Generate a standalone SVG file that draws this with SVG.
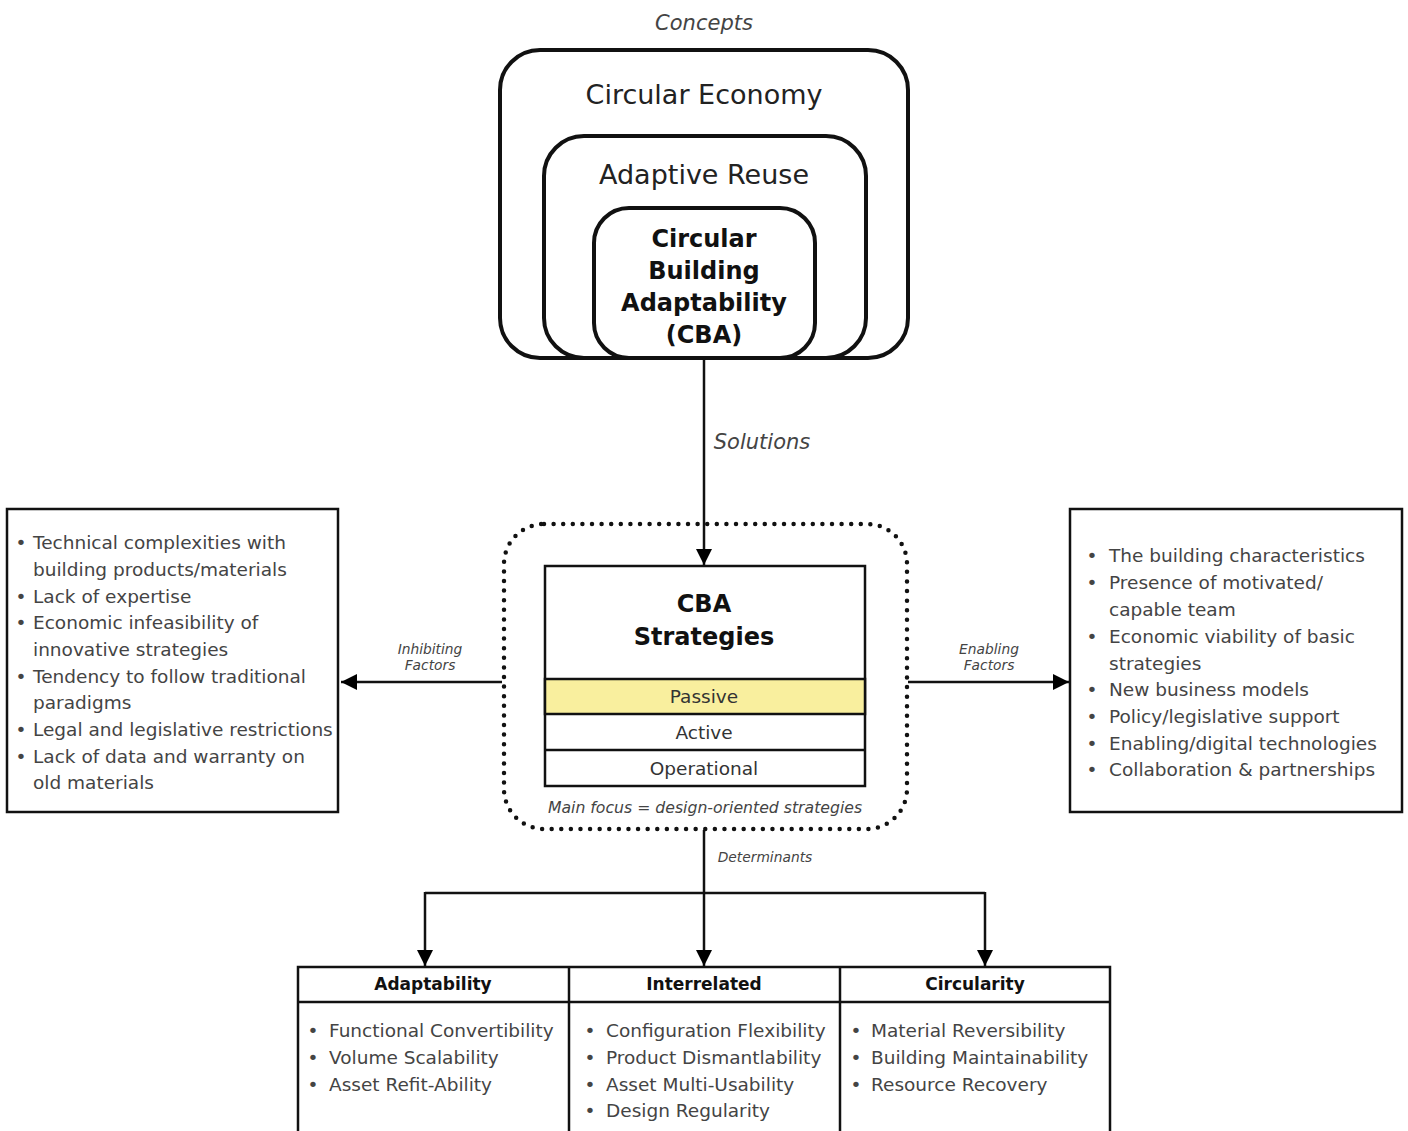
<svg xmlns="http://www.w3.org/2000/svg" width="1408" height="1131" viewBox="0 0 1408 1131">
<defs>
<marker id="ah" viewBox="0 0 10 10" refX="10" refY="5" markerWidth="16" markerHeight="16" markerUnits="userSpaceOnUse" orient="auto">
<path d="M0,0 L10,5 L0,10 Z" fill="#000"/>
</marker>
<style>
text{font-family:"DejaVu Sans","Liberation Sans",sans-serif;}
.ttl{font-size:27px;fill:#222;text-anchor:middle;}
.bold{font-size:24px;font-weight:bold;fill:#111;text-anchor:middle;}
.it{font-style:italic;fill:#444;text-anchor:middle;}
.li{font-size:18.5px;fill:#444;}
.bx{fill:#fff;stroke:#111;stroke-width:2.5;}
.rb{fill:none;stroke:#111;stroke-width:4;}
.cn{fill:none;stroke:#111;stroke-width:2.5;}
.hd{font-size:17px;font-weight:bold;fill:#111;text-anchor:middle;}
.ct{font-size:18.5px;fill:#333;text-anchor:middle;}
</style>
</defs>
<rect width="1408" height="1131" fill="#fff"/>

<g id="concepts">
<text class="it" x="704" y="30" style="font-size:21px">Concepts</text>
<rect class="rb" x="500" y="50" width="408" height="308" rx="40"/>
<text class="ttl" x="704" y="104">Circular Economy</text>
<rect class="rb" x="544" y="136" width="322" height="222" rx="40"/>
<text class="ttl" x="704" y="184">Adaptive Reuse</text>
<rect class="rb" x="594" y="208" width="221" height="150" rx="35"/>
<text class="bold" x="704" y="247">Circular</text>
<text class="bold" x="704" y="279">Building</text>
<text class="bold" x="704" y="311">Adaptability</text>
<text class="bold" x="704" y="343">(CBA)</text>
</g>

<g id="connectors">
<line class="cn" x1="704" y1="358" x2="704" y2="565" marker-end="url(#ah)"/>
<line class="cn" x1="502" y1="682" x2="341" y2="682" marker-end="url(#ah)"/>
<line class="cn" x1="908" y1="682" x2="1069" y2="682" marker-end="url(#ah)"/>
<line class="cn" x1="704" y1="830" x2="704" y2="966" marker-end="url(#ah)"/>
<line class="cn" x1="425" y1="893" x2="985" y2="893"/>
<line class="cn" x1="425" y1="892" x2="425" y2="966" marker-end="url(#ah)"/>
<line class="cn" x1="985" y1="892" x2="985" y2="966" marker-end="url(#ah)"/>
<text class="it" x="762" y="449" style="font-size:21px">Solutions</text>
<text class="it" x="430" y="654" style="font-size:13.8px">Inhibiting</text>
<text class="it" x="430" y="670" style="font-size:13.8px">Factors</text>
<text class="it" x="989" y="654" style="font-size:13.8px">Enabling</text>
<text class="it" x="989" y="670" style="font-size:13.8px">Factors</text>
<text class="it" x="765" y="862" style="font-size:13.8px">Determinants</text>
</g>

<g id="strategies">
<rect x="504" y="524" width="403" height="305" rx="40" fill="none" stroke="#111" stroke-width="4.5" stroke-linecap="round" stroke-dasharray="0 9.6"/>
<rect class="bx" x="545" y="566" width="320" height="220"/>
<rect x="545" y="679" width="320" height="35" fill="#f9ef9e" stroke="#111" stroke-width="2.5"/>
<line class="cn" x1="545" y1="750" x2="865" y2="750"/>
<text class="bold" x="704" y="612">CBA</text>
<text class="bold" x="704" y="645">Strategies</text>
<text class="ct" x="704" y="703">Passive</text>
<text class="ct" x="704" y="739">Active</text>
<text class="ct" x="704" y="775">Operational</text>
<text class="it" x="705" y="813" style="font-size:15.7px">Main focus = design-oriented strategies</text>
</g>

<g id="inhibiting">
<rect class="bx" x="7" y="509" width="331" height="303"/>
<g class="li">
<text x="15.5" y="549">•</text><text x="33" y="549">Technical complexities with</text>
<text x="33" y="576">building products/materials</text>
<text x="15.5" y="603">•</text><text x="33" y="603">Lack of expertise</text>
<text x="15.5" y="629">•</text><text x="33" y="629">Economic infeasibility of</text>
<text x="33" y="656">innovative strategies</text>
<text x="15.5" y="683">•</text><text x="33" y="683">Tendency to follow traditional</text>
<text x="33" y="709">paradigms</text>
<text x="15.5" y="736">•</text><text x="33" y="736">Legal and legislative restrictions</text>
<text x="15.5" y="763">•</text><text x="33" y="763">Lack of data and warranty on</text>
<text x="33" y="789">old materials</text>
</g>
</g>

<g id="enabling">
<rect class="bx" x="1070" y="509" width="332" height="303"/>
<g class="li">
<text x="1086.5" y="562">•</text><text x="1109" y="562">The building characteristics</text>
<text x="1086.5" y="589">•</text><text x="1109" y="589">Presence of motivated/</text>
<text x="1109" y="616">capable team</text>
<text x="1086.5" y="643">•</text><text x="1109" y="643">Economic viability of basic</text>
<text x="1109" y="670">strategies</text>
<text x="1086.5" y="696">•</text><text x="1109" y="696">New business models</text>
<text x="1086.5" y="723">•</text><text x="1109" y="723">Policy/legislative support</text>
<text x="1086.5" y="750">•</text><text x="1109" y="750">Enabling/digital technologies</text>
<text x="1086.5" y="776">•</text><text x="1109" y="776">Collaboration &amp; partnerships</text>
</g>
</g>

<g id="determinants">
<rect class="bx" x="298" y="967" width="812" height="170"/>
<line class="cn" x1="298" y1="1002" x2="1110" y2="1002"/>
<line class="cn" x1="569" y1="967" x2="569" y2="1131"/>
<line class="cn" x1="840" y1="967" x2="840" y2="1131"/>
<text class="hd" x="433" y="990">Adaptability</text>
<text class="hd" x="704" y="990">Interrelated</text>
<text class="hd" x="975" y="990">Circularity</text>
<g class="li">
<text x="307.5" y="1037">•</text><text x="329" y="1037">Functional Convertibility</text>
<text x="307.5" y="1064">•</text><text x="329" y="1064">Volume Scalability</text>
<text x="307.5" y="1091">•</text><text x="329" y="1091">Asset Refit-Ability</text>
<text x="584.5" y="1037">•</text><text x="606" y="1037">Configuration Flexibility</text>
<text x="584.5" y="1064">•</text><text x="606" y="1064">Product Dismantlability</text>
<text x="584.5" y="1091">•</text><text x="606" y="1091">Asset Multi-Usability</text>
<text x="584.5" y="1117">•</text><text x="606" y="1117">Design Regularity</text>
<text x="850.5" y="1037">•</text><text x="871" y="1037">Material Reversibility</text>
<text x="850.5" y="1064">•</text><text x="871" y="1064">Building Maintainability</text>
<text x="850.5" y="1091">•</text><text x="871" y="1091">Resource Recovery</text>
</g>
</g>
</svg>
